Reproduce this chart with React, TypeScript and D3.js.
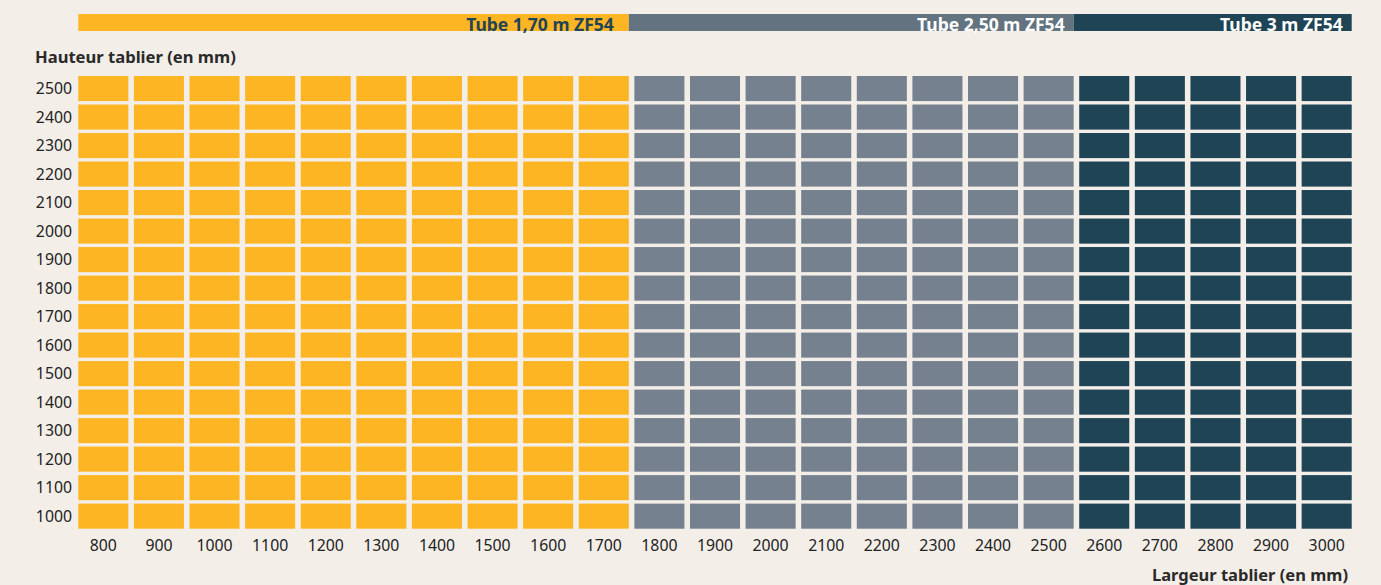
import React from "react";
import * as d3 from "d3";

const widths = [800, 900, 1000, 1100, 1200, 1300, 1400, 1500, 1600, 1700, 1800, 1900, 2000, 2100, 2200, 2300, 2400, 2500, 2600, 2700, 2800, 2900, 3000];
const heights = [1000, 1100, 1200, 1300, 1400, 1500, 1600, 1700, 1800, 1900, 2000, 2100, 2200, 2300, 2400, 2500];
const groupNames = ["Tube 1,70 m ZF54", "Tube 2,50 m ZF54", "Tube 3 m ZF54"];
const groupFirst = [800, 1800, 2600];
const groupLast = [1700, 2500, 3000];
const cellColors = ["#FDB524", "#76818F", "#1E4456"];
const bandColors = ["#FDB524", "#63737F", "#1E4456"];
const bandText = ["#1E4456", "#FFFFFF", "#FFFFFF"];

const W = 1381;
const H = 585;
const FONT = "'Noto Sans', 'Open Sans', sans-serif";

export default function App() {
  const x = d3.scaleBand<number>().domain(widths).range([78.3, 1351.7]).paddingInner(0.1).paddingOuter(0);
  const y = d3.scaleBand<number>().domain([...heights].reverse()).range([76, 528.7]).paddingInner(0.12).paddingOuter(0);
  const groupOf = (w: number) => groupLast.findIndex((l) => w <= l);

  return (
    <svg width={W} height={H} style={{ position: "absolute", left: 0, top: 0, background: "#F3EEE8" }} fontFamily={FONT}>
      <rect x={0} y={0} width={W} height={H} fill="#F3EEE8" />
      {groupNames.map((name, i) => {
        const x0 = i === 0 ? (x(groupFirst[i]) as number) : (x(groupLast[i - 1]) as number) + x.bandwidth();
        const x1 = (x(groupLast[i]) as number) + x.bandwidth();
        return (
          <g key={name}>
            <rect x={x0} y={14} width={x1 - x0} height={17} fill={bandColors[i]} />
            <text x={x1 - (i === 0 ? 15 : 9)} y={31} textAnchor="end" fontSize={17.5} fontWeight={700} fill={bandText[i]}>
              {name}
            </text>
          </g>
        );
      })}
      <text x={35} y={63} fontSize={16.6} fontWeight={700} fill="#2A2A2A">Hauteur tablier (en mm)</text>
      {heights.map((h) =>
        widths.map((w) => (
          <rect key={`${h}-${w}`} x={x(w)} y={y(h)} width={x.bandwidth()} height={y.bandwidth()} fill={cellColors[groupOf(w)]} />
        ))
      )}
      {heights.map((h) => (
        <text key={h} x={72} y={(y(h) as number) + y.bandwidth() / 2} dy="0.36em" textAnchor="end" fontSize={15.8} fill="#222">
          {h}
        </text>
      ))}
      {widths.map((w) => (
        <text key={w} x={(x(w) as number) + x.bandwidth() / 2} y={551} textAnchor="middle" fontSize={15.8} fill="#222">
          {w}
        </text>
      ))}
      <text x={1348} y={581} textAnchor="end" fontSize={16.5} fontWeight={700} fill="#2A2A2A">Largeur tablier (en mm)</text>
    </svg>
  );
}
